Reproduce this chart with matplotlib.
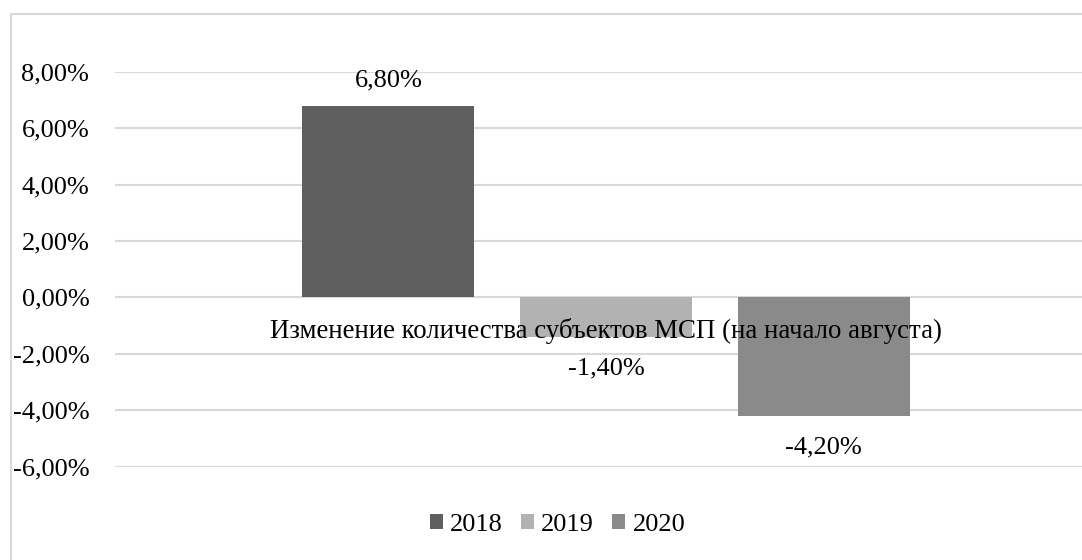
import matplotlib
matplotlib.use("Agg")
import matplotlib.pyplot as plt
from matplotlib.patches import Rectangle

category = "Изменение количества субъектов МСП (на начало августа)"
series = ["2018", "2019", "2020"]
values = [6.80, -1.40, -4.20]
labels = ["6,80%", "-1,40%", "-4,20%"]
yticks = [-6, -4, -2, 0, 2, 4, 6, 8]
ytick_labels = ["-6,00%", "-4,00%", "-2,00%", "0,00%", "2,00%", "4,00%", "6,00%", "8,00%"]
colors = ["#5f5f5f", "#b2b2b2", "#8a8a8a"]

plt.rcParams['font.family'] = ['Liberation Serif', 'DejaVu Serif']
FS = 19

fig = plt.figure(figsize=(10.82, 5.6), dpi=100)
fig.patch.set_facecolor("white")
# outer chart border (right/bottom extend beyond the crop)
fig.patches.append(Rectangle((10.5 / 1082, -0.1), 1.2, 1 - 14 / 560 + 0.1,
                             transform=fig.transFigure, fill=False,
                             edgecolor="#d9d9d9", linewidth=1.5))

ax = fig.add_axes([115 / 1082, 1 - 466.7 / 560, 982 / 1082, (466.7 - 71.7) / 560])
positions = [-1, 0, 1]
width = 0.791
for p, v, c, s, lab in zip(positions, values, colors, series, labels):
    ax.bar(p, v, width=width, color=c, label=s, zorder=2)
    off = 18 if v > 0 else -22.5
    ax.annotate(lab, (p, v), xytext=(0, off), textcoords="offset points",
                ha="center", va="center", fontsize=FS, color="#000000", zorder=4)

ax.set_ylim(-6, 8)
ax.set_xlim(-2.257, 2.257)
ax.set_yticks(yticks)
ax.set_yticklabels(ytick_labels, fontsize=FS)
ax.tick_params(axis="y", length=0, pad=18.5)
ax.set_xticks([])
ax.yaxis.grid(True, color="#d9d9d9", linewidth=1.5, zorder=0)
ax.set_axisbelow(True)
for sp in ax.spines.values():
    sp.set_visible(False)

ax.annotate(category, (0, 0), xytext=(0, -24), textcoords="offset points",
            ha="center", va="center", fontsize=19.4, color="#000000", zorder=3)

leg = fig.legend(loc="center", bbox_to_anchor=(557.5 / 1082, 1 - 525 / 560),
                 ncol=3, frameon=False, fontsize=FS, handlelength=0.5,
                 handleheight=0.5, handletextpad=0.27, columnspacing=0.68)

fig.savefig("out.png", dpi=100)
